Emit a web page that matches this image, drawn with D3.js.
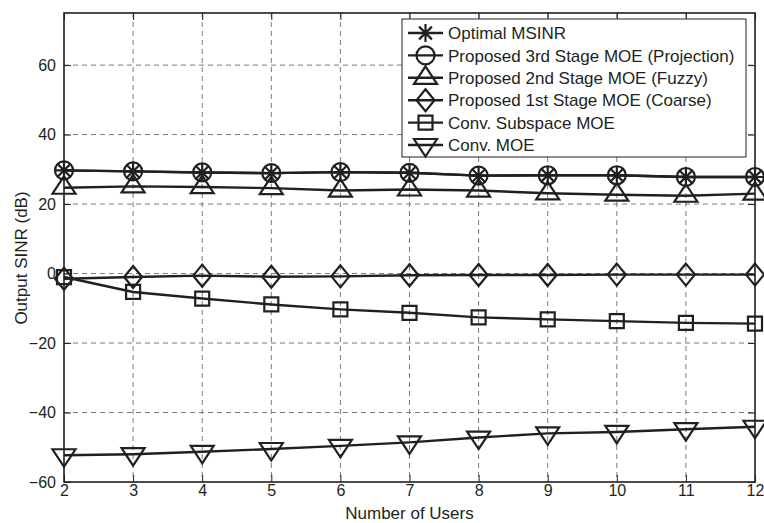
<!DOCTYPE html>
<html>
<head>
<meta charset="utf-8">
<script src="https://cdn.jsdelivr.net/npm/d3@7"></script>
<style>
  html, body { margin: 0; padding: 0; background: #fff; }
  svg { display: block; }
  text { font-family: "Liberation Sans", Arial, Helvetica, sans-serif; fill: #231f20; }
</style>
</head>
<body>
<script>
// Output SINR versus number of users for the MOE receiver variants
const users = [2, 3, 4, 5, 6, 7, 8, 9, 10, 11, 12];
const optimalMsinr = [29.7, 29.4, 29.1, 28.9, 29.2, 29.0, 28.2, 28.3, 28.3, 27.8, 27.8];
const stage3Projection = [29.7, 29.4, 29.1, 28.9, 29.2, 29.0, 28.2, 28.3, 28.3, 27.8, 27.8];
const stage2Fuzzy = [24.7, 25.1, 24.9, 24.6, 23.9, 24.2, 23.9, 23.1, 22.7, 22.4, 23.0];
const stage1Coarse = [-1.5, -1.0, -0.6, -0.9, -0.8, -0.5, -0.4, -0.4, -0.3, -0.3, -0.3];
const convSubspace = [-1.0, -5.3, -7.2, -8.9, -10.3, -11.3, -12.6, -13.2, -13.7, -14.2, -14.4];
const convMoe = [-52.3, -52.0, -51.3, -50.5, -49.6, -48.6, -47.2, -46.0, -45.6, -44.8, -44.1];

const seriesNames = [
  "Optimal MSINR",
  "Proposed 3rd Stage MOE (Projection)",
  "Proposed 2nd Stage MOE (Fuzzy)",
  "Proposed 1st Stage MOE (Coarse)",
  "Conv. Subspace MOE",
  "Conv. MOE"
];
const seriesMarkers = ["asterisk", "circle", "triangleUp", "diamond", "square", "triangleDown"];
const seriesValues = [optimalMsinr, stage3Projection, stage2Fuzzy, stage1Coarse, convSubspace, convMoe];

const xTicks = [2, 3, 4, 5, 6, 7, 8, 9, 10, 11, 12];
const yTicks = [-60, -40, -20, 0, 20, 40, 60];
const xDomain = [2, 12];
const yDomain = [-60, 75];

const W = 764, H = 523;
const plot = { left: 64, right: 755, top: 13, bottom: 482 };
const ink = "#231f20";

const svg = d3.select("body").append("svg").attr("width", W).attr("height", H);

const x = d3.scaleLinear().domain(xDomain).range([plot.left, plot.right]);
const y = d3.scaleLinear().domain(yDomain).range([plot.bottom, plot.top]);

// dashed grid
const grid = svg.append("g").attr("stroke", "#7a7a7a").attr("stroke-width", 1)
  .attr("stroke-dasharray", "5,4").attr("fill", "none");
grid.selectAll("line.v").data(xTicks.slice(1, -1)).join("line")
  .attr("x1", d => x(d)).attr("x2", d => x(d))
  .attr("y1", plot.top).attr("y2", plot.bottom);
grid.selectAll("line.h").data(yTicks.slice(1)).join("line")
  .attr("x1", plot.left).attr("x2", plot.right)
  .attr("y1", d => y(d)).attr("y2", d => y(d));

// axes with inward ticks, mirrored on top/right
const tickLen = 7;
const xAxisB = d3.axisBottom(x).tickValues(xTicks).tickSizeInner(-tickLen).tickSizeOuter(0).tickPadding(3);
const xAxisT = d3.axisTop(x).tickValues(xTicks).tickSizeInner(-tickLen).tickSizeOuter(0).tickFormat("");
const yAxisL = d3.axisLeft(y).tickValues(yTicks).tickSizeInner(-tickLen).tickSizeOuter(0).tickPadding(8);
const yAxisR = d3.axisRight(y).tickValues(yTicks).tickSizeInner(-tickLen).tickSizeOuter(0).tickFormat("");

function styleAxis(g) {
  g.select(".domain").remove();
  g.selectAll(".tick line").attr("stroke", ink).attr("stroke-width", 1);
  g.selectAll(".tick text").attr("font-size", 16).attr("fill", ink)
    .attr("font-family", "'Liberation Sans', Arial, sans-serif");
}
svg.append("g").attr("transform", `translate(0,${plot.bottom})`).call(xAxisB).call(styleAxis);
svg.append("g").attr("transform", `translate(0,${plot.top})`).call(xAxisT).call(styleAxis);
svg.append("g").attr("transform", `translate(${plot.left},0)`).call(yAxisL).call(styleAxis);
svg.append("g").attr("transform", `translate(${plot.right},0)`).call(yAxisR).call(styleAxis);

// marker shapes
const markerPath = {
  asterisk: "M-9,0L9,0M0,-9L0,9M-6.4,-6.4L6.4,6.4M-6.4,6.4L6.4,-6.4",
  circle: "M9,0A9,9 0 1,1 -9,0A9,9 0 1,1 9,0Z",
  triangleUp: "M0,-11.5L11.5,6L-11.5,6Z",
  triangleDown: "M0,11.5L11.5,-6L-11.5,-6Z",
  diamond: "M0,-11L9,0L0,11L-9,0Z",
  square: "M-7,-7H7V7H-7Z"
};

const line = d3.line().x((d, i) => x(users[i])).y(d => y(d));

const series = svg.append("g");
seriesValues.forEach((vals, k) => {
  const g = series.append("g");
  g.append("path").datum(vals).attr("d", line)
    .attr("fill", "none").attr("stroke", ink).attr("stroke-width", 2.4).attr("stroke-linejoin", "round");
  g.selectAll("path.m").data(vals).join("path").attr("class", "m")
    .attr("transform", (d, i) => `translate(${x(users[i])},${y(d)})`)
    .attr("d", markerPath[seriesMarkers[k]])
    .attr("fill", "none").attr("stroke", ink).attr("stroke-width", 2.2);
});

// axes box
svg.append("rect").attr("x", plot.left).attr("y", plot.top)
  .attr("width", plot.right - plot.left).attr("height", plot.bottom - plot.top)
  .attr("fill", "none").attr("stroke", ink).attr("stroke-width", 1.6);

// axis titles
svg.append("text").attr("x", (plot.left + plot.right) / 2).attr("y", 519)
  .attr("text-anchor", "middle").attr("font-size", 17).text("Number of Users");
svg.append("text").attr("transform", "translate(27,258) rotate(-90)")
  .attr("text-anchor", "middle").attr("font-size", 17).text("Output SINR (dB)");

// legend
const leg = { x: 402, y: 19, w: 344, h: 138, row0: 33, rowStep: 22.4 };
const lg = svg.append("g");
lg.append("rect").attr("x", leg.x).attr("y", leg.y).attr("width", leg.w).attr("height", leg.h)
  .attr("fill", "#fff").attr("stroke", ink).attr("stroke-width", 1);
const rows = lg.selectAll("g.row").data(seriesNames).join("g")
  .attr("transform", (d, i) => `translate(${leg.x},${leg.row0 + i * leg.rowStep})`);
rows.append("line").attr("x1", 6).attr("x2", 41).attr("y1", 0).attr("y2", 0)
  .attr("stroke", ink).attr("stroke-width", 2.4);
rows.append("path").attr("transform", "translate(23.5,0)")
  .attr("d", (d, i) => markerPath[seriesMarkers[i]])
  .attr("fill", "none").attr("stroke", ink).attr("stroke-width", 2.2);
rows.append("text").attr("x", 46).attr("y", 0).attr("dy", "0.36em")
  .attr("font-size", 17).text(d => d);
</script>
</body>
</html>
